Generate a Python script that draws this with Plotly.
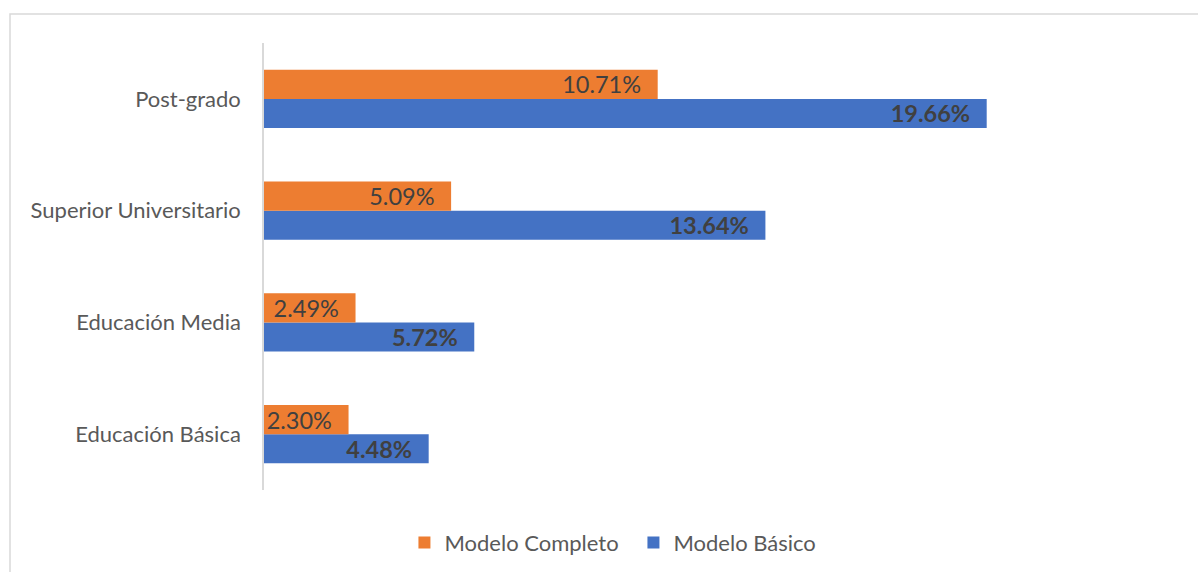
import plotly.graph_objects as go

# Education levels (top to bottom as displayed)
niveles = ["Post-grado", "Superior Universitario", "Educación Media", "Educación Básica"]
modelo_completo = [10.71, 5.09, 2.49, 2.30]
modelo_basico = [19.66, 13.64, 5.72, 4.48]

ORANGE = "#ED7D31"
BLUE = "#4472C4"
FONT = "Lato, 'Open Sans', sans-serif"

fig = go.Figure()

# Blue first so it sits in the lower slot of each group
fig.add_trace(go.Bar(
    y=niveles, x=modelo_basico, name="Modelo Básico", orientation="h",
    marker=dict(color=BLUE, line=dict(width=0)),
    texttemplate="%{x:.2f}%\u2007", textposition="inside", insidetextanchor="end",
    textangle=0, constraintext="none",
    textfont=dict(family=FONT, size=23.5, color="#404040", weight="bold"),
    hoverinfo="skip",
))
fig.add_trace(go.Bar(
    y=niveles, x=modelo_completo, name="Modelo Completo", orientation="h",
    marker=dict(color=ORANGE, line=dict(width=0)),
    texttemplate="%{x:.2f}%\u2007", textposition="inside", insidetextanchor="end",
    textangle=0, constraintext="none",
    textfont=dict(family=FONT, size=23.5, color="#404040"),
    hoverinfo="skip",
))

fig.update_layout(
    width=1198, height=572,
    margin=dict(l=264, r=15, t=43, b=82, autoexpand=False),
    paper_bgcolor="white", plot_bgcolor="white",
    barmode="group", bargap=0.48, bargroupgap=0,
    showlegend=True,
    legend=dict(
        orientation="h", x=0.402, xanchor="center", y=-0.118, yanchor="middle",
        traceorder="reversed", font=dict(family=FONT, size=22, color="#595959"),
        entrywidth=184, entrywidthmode="pixels",
    ),
    xaxis=dict(range=[0, 25], visible=False, showgrid=False, zeroline=False, fixedrange=True),
    yaxis=dict(
        categoryorder="array", categoryarray=niveles[::-1],
        showline=True, linecolor="#d9d9d9", linewidth=1.5,
        showgrid=False, zeroline=False, ticks="", ticklabelstandoff=17,
        tickfont=dict(family=FONT, size=22, color="#595959"),
    ),
    shapes=[dict(
        type="rect", xref="paper", yref="paper",
        x0=(10 - 264) / 919, x1=1.1, y0=-0.3, y1=(490 - 14) / 447,
        line=dict(color="#d9d9d9", width=1.5), fillcolor="rgba(0,0,0,0)", layer="below",
    )],
)

fig.write_html("out.html")
